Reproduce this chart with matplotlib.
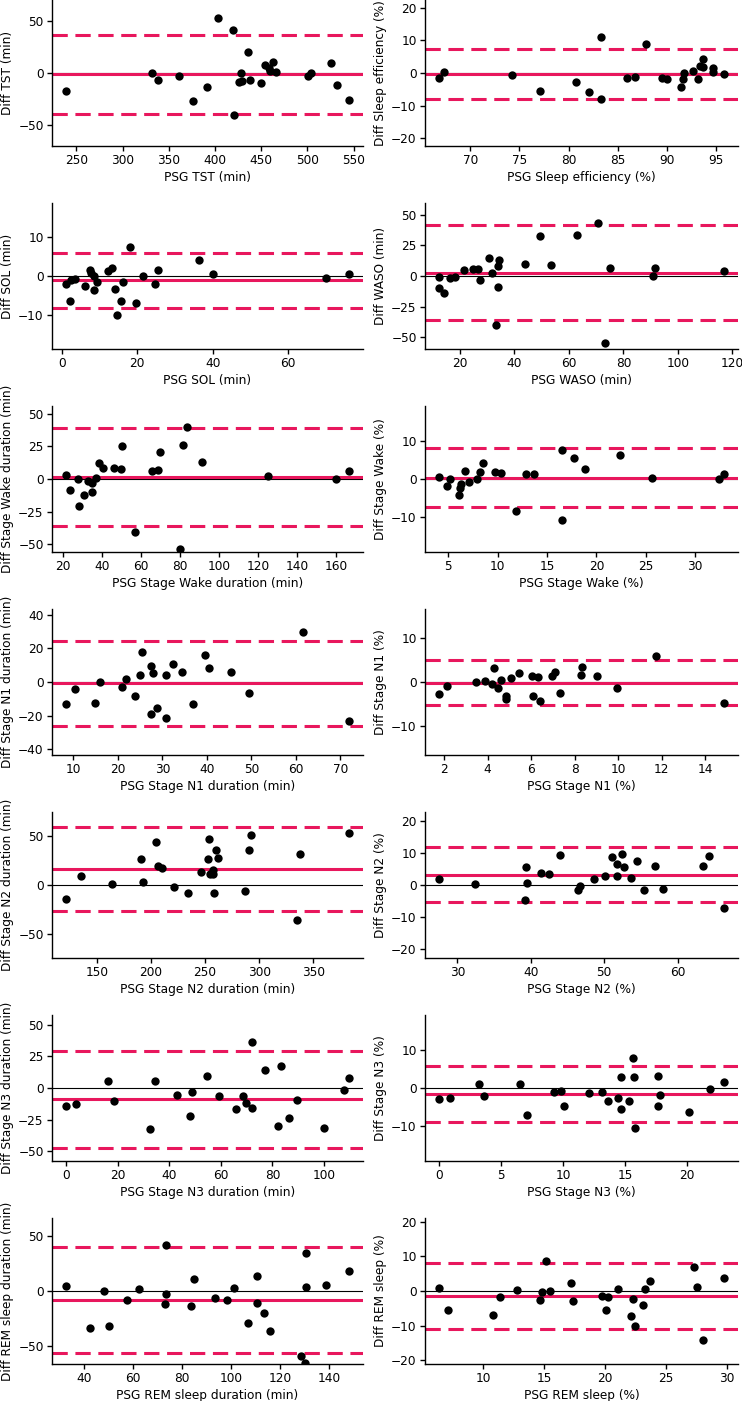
import matplotlib
matplotlib.use("Agg")
import matplotlib.pyplot as plt

# ---------------- data ----------------
tst_x = [238.8, 331.8, 338.0, 361.4, 376.2, 391.0, 403.6, 419.4, 420.5, 425.9, 428.0, 428.8,
         437.5, 435.3, 449.7, 454.4, 458.0, 462.7, 460.0, 466.3, 500.5, 503.4, 525.8, 531.9, 544.9]
tst_y = [-17.2, 0.3, -7.0, -2.9, -26.8, -13.7, 53.2, 41.4, -40.1, -8.6, -0.3, -7.6,
         -7.0, 19.7, -9.2, 7.3, 4.5, 10.5, 2.2, 1.0, -2.9, 0.3, 9.9, -11.1, -25.8]

se_x = [66.84, 67.3, 74.2, 77.1, 80.8, 82.06, 83.3, 83.3, 86.0, 86.8, 87.9, 89.5, 90.0,
        91.4, 91.6, 91.8, 92.7, 93.2, 93.4, 93.7, 93.7, 94.7, 94.7, 95.8]
se_y = [-1.43, 0.2, -0.5, -5.4, -2.8, -5.7, 11.0, -7.9, -1.4, -1.3, 8.8, -1.4, -1.7,
        -4.3, -1.8, 0.0, 0.6, -1.8, 2.0, 4.2, 1.7, 1.6, 0.2, -0.3]

sol_x = [1.15, 2.1, 2.5, 3.6, 6.2, 7.6, 7.8, 8.65, 8.65, 9.2, 12.2, 13.2, 14.1, 14.65,
         15.6, 16.1, 18.1, 19.6, 21.6, 24.6, 25.6, 36.5, 40.1, 70.1, 76.1]
sol_y = [-2.05, -6.5, -1.0, -0.9, -2.5, 1.5, 0.7, 0.1, -3.5, -1.5, 1.4, 2.05, -3.4, -10.0,
         -6.5, -1.5, 7.5, -7.0, 0.1, -2.05, 1.5, 4.1, 0.5, -0.4, 0.5]

waso_x = [12.5, 12.4, 14.0, 16.4, 18.2, 21.5, 24.9, 26.5, 27.4, 30.8, 31.9, 33.9, 34.3,
          34.0, 33.4, 44.0, 49.4, 53.5, 63.0, 70.5, 73.4, 74.9, 90.9, 91.5, 116.8]
waso_y = [-1.1, -9.5, -13.6, -1.4, -0.5, 4.6, 6.0, 6.0, -3.0, 14.7, 2.2, 7.9, 13.0,
          -9.0, -39.7, 9.5, 32.3, 8.7, 33.7, 43.2, -54.6, 6.25, 0.0, 6.25, 4.1]

wakedur_x = [21.7, 23.6, 27.7, 28.5, 30.6, 32.8, 35.0, 34.8, 37.0, 38.4, 40.6, 46.4, 49.6,
             50.5, 57.1, 65.5, 68.6, 69.6, 81.5, 83.5, 80.1, 91.4, 124.9, 160.0, 166.5]
wakedur_y = [3.0, -8.6, 0.0, -20.3, -11.9, -1.3, -3.0, -10.1, 1.0, 12.4, 8.6, 8.1, 7.3,
             25.6, -40.8, 6.3, 6.8, 20.3, 26.3, 39.5, -53.2, 12.7, 2.3, -0.25, 6.3]

wakepct_x = [4.1, 4.86, 5.2, 6.15, 6.19, 6.35, 6.73, 7.1, 7.9, 8.25, 8.5, 9.74, 10.34,
             11.9, 12.9, 13.7, 16.5, 16.5, 17.7, 18.9, 22.4, 25.6, 32.4, 32.9]
wakepct_y = [0.4, -1.9, -0.1, -4.3, -2.3, -1.3, 2.1, -0.7, 0.1, 1.8, 4.2, 1.8, 1.5,
             -8.6, 1.3, 1.3, 7.7, -11.0, 5.7, 2.65, 6.5, 0.35, -0.1, 1.2]

n1dur_x = [8.4, 10.4, 14.9, 15.9, 20.9, 21.9, 23.9, 24.9, 25.4, 27.4, 27.4, 27.9, 28.8,
           30.9, 30.9, 32.4, 34.5, 36.9, 39.5, 40.4, 45.4, 49.4, 61.5, 71.9]
n1dur_y = [-13.2, -4.3, -12.3, -0.2, -2.8, 1.8, -8.1, 4.0, 18.0, 9.5, -18.8, 5.5, -15.4,
           4.3, -21.1, 10.5, 5.9, -13.2, 16.0, 8.5, 5.9, -6.5, 29.8, -23.3]

n1pct_x = [1.78, 2.12, 3.45, 3.9, 4.2, 4.3, 4.5, 4.6, 4.83, 4.85, 5.08, 5.45, 6.03, 6.08,
           6.32, 6.42, 6.95, 7.08, 7.34, 8.3, 8.34, 9.03, 9.95, 11.75, 14.86]
n1pct_y = [-2.7, -0.8, -0.1, 0.2, -0.45, 3.1, -1.4, 0.45, -3.2, -3.9, 0.9, 2.0, 1.3, -3.2,
           1.05, -4.3, 1.35, 2.3, -2.6, 1.7, 3.5, 1.3, -1.3, 5.9, -4.75]

n2dur_x = [121.7, 135.5, 163.8, 190.6, 192.5, 204.5, 206.9, 210.3, 221.1, 234.6, 246.0,
           253.1, 254.0, 255.0, 257.1, 257.4, 260.5, 261.7, 258.3, 286.9, 290.6, 292.2,
           334.9, 337.7, 382.9]
n2dur_y = [-14.2, 8.8, 0.7, 26.8, 3.4, 43.7, 19.0, 17.3, -1.7, -8.5, 13.6,
           26.8, 46.8, 10.8, 15.3, 10.8, 35.9, 27.1, -7.8, -6.1, 35.6, 50.2,
           -35.9, 31.5, 53.2]

n2pct_x = [27.53, 32.37, 39.18, 39.36, 39.5, 41.4, 42.5, 44.0, 46.48, 46.66, 48.63, 50.09,
           51.1, 51.69, 51.78, 52.4, 52.7, 53.7, 54.43, 55.43, 56.99, 58.04, 63.47, 64.25, 66.3]
n2pct_y = [1.77, 0.2, -4.67, 5.5, 0.6, 3.84, 3.5, 9.45, -1.66, -0.3, 1.97, 2.8,
           8.83, 2.9, 6.44, 9.66, 5.6, 2.18, 7.58, -1.66, 5.92, -1.35, 5.92, 8.93, -7.17]

n3dur_x = [0.0, 4.0, 16.1, 18.5, 32.4, 34.6, 43.0, 48.2, 48.7, 54.6, 59.2, 65.9, 68.5,
           69.6, 72.0, 72.0, 77.1, 83.5, 82.1, 86.6, 89.6, 100.2, 107.7, 109.7]
n3dur_y = [-13.9, -12.6, 5.3, -10.3, -32.4, 5.8, -5.3, -22.1, -3.2, 9.7, -6.3, -16.3, -6.1,
           -12.1, -16.1, 36.6, 14.5, 17.1, -30.3, -23.7, -9.7, -31.6, -1.8, 7.6]

n3pct_x = [0.0, 0.84, 3.18, 3.64, 6.48, 7.09, 9.27, 9.8, 10.08, 12.07, 13.14, 13.6, 14.4,
           14.7, 14.7, 15.3, 15.6, 15.67, 15.79, 17.66, 17.66, 17.78, 20.15, 21.84, 22.95]
n3pct_y = [-2.9, -2.7, 1.05, -2.1, 1.05, -7.0, -1.14, -0.7, -4.65, -1.4, -1.05, -3.33, -2.54,
           2.98, -5.44, -3.33, 7.8, 2.98, -10.6, 3.16, -4.82, -1.75, -6.3, -0.35, 1.67]

remdur_x = [32.9, 42.7, 48.1, 50.2, 57.7, 62.5, 73.1, 73.5, 73.5, 83.5, 85.0, 93.5, 98.3,
            101.0, 110.6, 110.6, 113.3, 106.9, 116.0, 128.5, 130.2, 130.4, 130.6, 138.8, 147.9]
remdur_y = [4.9, -33.6, 0.0, -31.8, -8.0, 1.8, -12.2, -2.75, 42.5, -13.5, 11.0, -6.1, -8.3,
            3.1, -11.3, 13.5, -20.5, -29.1, -37.0, -59.6, -65.7, 34.9, 3.4, 5.8, 18.3]

rempct_x = [6.4, 7.1, 10.85, 11.36, 12.8, 14.69, 14.84, 15.16, 15.47, 17.2, 17.36, 19.73,
            20.1, 20.3, 21.07, 22.17, 22.29, 22.48, 23.1, 23.26, 23.68, 27.33, 27.56, 28.06, 29.77]
rempct_y = [0.97, -5.6, -6.96, -1.64, 0.39, -2.51, -0.39, 8.6, 0.1, 2.2, -2.8, -1.45,
            -5.5, -1.74, 0.58, -7.15, -2.32, -10.24, -4.15, 0.58, 2.9, 7.05, 1.16, -14.1, 3.67]

# bias (mean difference) and limits of agreement per panel
bias = [-1.0, -0.3, -1.1, 2.7, 1.3, 0.3, -0.6, -0.2, 15.9, 3.1, -8.7, -1.6, -8.0, -1.55]
loa_upper = [36.0, 7.45, 6.0, 41.3, 39.2, 8.2, 24.3, 5.0, 58.6, 11.7, 29.2, 5.9, 40.7, 8.1]
loa_lower = [-38.9, -7.96, -8.3, -35.9, -35.7, -7.5, -25.9, -5.3, -26.4, -5.4, -47.1, -8.9, -56.6, -11.1]

measures = ["TST (min)", "Sleep efficiency (%)", "SOL (min)", "WASO (min)",
            "Stage Wake duration (min)", "Stage Wake (%)",
            "Stage N1 duration (min)", "Stage N1 (%)",
            "Stage N2 duration (min)", "Stage N2 (%)",
            "Stage N3 duration (min)", "Stage N3 (%)",
            "REM sleep duration (min)", "REM sleep (%)"]

y_limit = [70, 22.4, 18.8, 59.5, 55.8, 19.4, 43.3, 16.6, 74, 22.7, 57.6, 19.2, 66.8, 21.1]

y_ticks = [[-50, 0, 50], [-20, -10, 0, 10, 20], [-10, 0, 10], [-50, -25, 0, 25, 50],
           [-50, -25, 0, 25, 50], [-10, 0, 10], [-40, -20, 0, 20, 40], [-10, 0, 10],
           [-50, 0, 50], [-20, -10, 0, 10, 20], [-50, -25, 0, 25, 50], [-10, 0, 10],
           [-50, 0, 50], [-20, -10, 0, 10, 20]]
x_ticks = [[250, 300, 350, 400, 450, 500, 550], [70, 75, 80, 85, 90, 95], [0, 20, 40, 60],
           [20, 40, 60, 80, 100, 120], [20, 40, 60, 80, 100, 120, 140, 160],
           [5, 10, 15, 20, 25, 30], [10, 20, 30, 40, 50, 60, 70], [2, 4, 6, 8, 10, 12, 14],
           [150, 200, 250, 300, 350], [30, 40, 50, 60], [0, 20, 40, 60, 80, 100],
           [0, 5, 10, 15, 20], [40, 60, 80, 100, 120, 140], [10, 15, 20, 25, 30]]

xs = [tst_x, se_x, sol_x, waso_x, wakedur_x, wakepct_x, n1dur_x, n1pct_x,
      n2dur_x, n2pct_x, n3dur_x, n3pct_x, remdur_x, rempct_x]
ys = [tst_y, se_y, sol_y, waso_y, wakedur_y, wakepct_y, n1dur_y, n1pct_y,
      n2dur_y, n2pct_y, n3dur_y, n3pct_y, remdur_y, rempct_y]

# ---------------- figure ----------------
W, H = 742, 1401
fig = plt.figure(figsize=(W / 100, H / 100), dpi=100)
plt.rcParams["font.size"] = 8.7

PINK = "#E8175D"
col_x = [(52, 363), (425, 738)]
row_step, ax_h = 203, 146

for i in range(14):
    r, c = divmod(i, 2)
    x0, x1 = col_x[c]
    top = r * row_step
    ax = fig.add_axes([x0 / W, 1 - (top + ax_h) / H, (x1 - x0) / W, ax_h / H])
    ax.axhline(0, color="black", lw=0.8, zorder=1)
    ax.axhline(bias[i], color=PINK, lw=2.2, zorder=2)
    ax.axhline(loa_upper[i], color=PINK, lw=2.2, ls=(0, (5, 2.5)), zorder=2)
    ax.axhline(loa_lower[i], color=PINK, lw=2.2, ls=(0, (5, 2.5)), zorder=2)
    ax.plot(xs[i], ys[i], "o", color="black", ms=6, mew=0, zorder=3)
    ax.set_xticks(x_ticks[i])
    ax.set_yticks(y_ticks[i])
    ax.set_ylim(-y_limit[i], y_limit[i])
    ax.set_xlabel("PSG " + measures[i], fontsize=8.7, labelpad=2.5)
    ax.set_ylabel("Diff " + measures[i], fontsize=8.7, labelpad=3)
    ax.tick_params(labelsize=8.7, width=1.0, length=3.5, pad=2.5)
    for s in ("top", "right"):
        ax.spines[s].set_visible(False)
    for s in ("left", "bottom"):
        ax.spines[s].set_linewidth(1.0)

fig.savefig("out.png", dpi=100)
